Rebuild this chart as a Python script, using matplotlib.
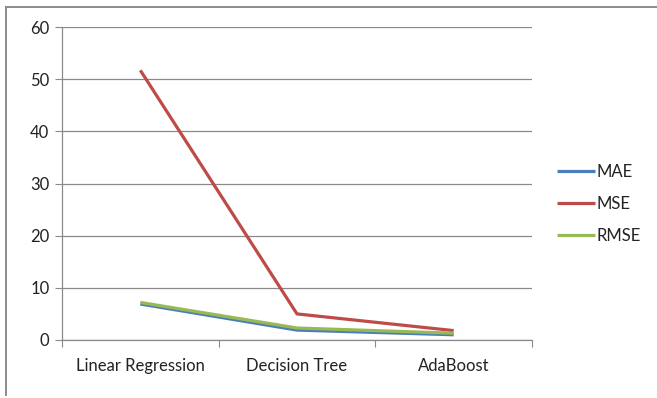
import matplotlib
matplotlib.use("Agg")
import matplotlib.pyplot as plt
from matplotlib.lines import Line2D

categories = ["Linear Regression", "Decision Tree", "AdaBoost"]
mae = [6.9, 1.9, 1.0]
mse = [51.7, 5.0, 1.8]
rmse = [7.2, 2.3, 1.3]

W, H = 657, 398
fig = plt.figure(figsize=(W / 100, H / 100), dpi=100)
plt.rcParams['font.family'] = ['Lato', 'DejaVu Sans']

# outer border (top and left visible)
fig.lines.append(Line2D([6 / W, 1.0], [1 - 7 / H, 1 - 7 / H], transform=fig.transFigure,
                        color='#8c8c8c', lw=1.4))
fig.lines.append(Line2D([6 / W, 6 / W], [1 - 7 / H, 1 - 395 / H], transform=fig.transFigure,
                        color='#8c8c8c', lw=1.4))

ax = fig.add_axes([62 / W, 1 - 340 / H, (532 - 62) / W, (340 - 27) / H])
x = [0.5, 1.5, 2.5]
ax.plot(x, mae, color='#4A7EBB', lw=2.3, label='MAE', solid_capstyle='butt')
ax.plot(x, mse, color='#BE4B48', lw=2.3, label='MSE', solid_capstyle='butt')
ax.plot(x, rmse, color='#98B954', lw=2.3, label='RMSE', solid_capstyle='butt')

ax.set_xlim(0, 3)
ax.set_ylim(0, 60)
ax.set_yticks(range(0, 61, 10))
ax.yaxis.grid(True, color='#8a8a8a', lw=0.9)
ax.set_axisbelow(True)
ax.set_xticks([0, 1, 2, 3])
ax.set_xticklabels([])
ax.set_xticks(x, minor=True)
ax.set_xticklabels(categories, minor=True)
ax.tick_params(axis='x', which='major', length=5, color='#8a8a8a', direction='out')
ax.tick_params(axis='x', which='minor', length=0, pad=13, labelsize=12, labelcolor='#222222')
ax.tick_params(axis='y', length=5, color='#8a8a8a', labelsize=12, labelcolor='#222222', pad=4)
for s in ['top', 'right']:
    ax.spines[s].set_visible(False)
for s in ['left', 'bottom']:
    ax.spines[s].set_color('#8a8a8a')
    ax.spines[s].set_linewidth(0.9)

leg = ax.legend(loc='center left', bbox_to_anchor=(550 / W, 1 - 204 / H), bbox_transform=fig.transFigure,
                frameon=False, fontsize=12, handlelength=2.3, handletextpad=0.1, labelspacing=0.95,
                borderaxespad=0)
for t in leg.get_texts():
    t.set_color('#222222')

fig.savefig("out.png", dpi=100)
